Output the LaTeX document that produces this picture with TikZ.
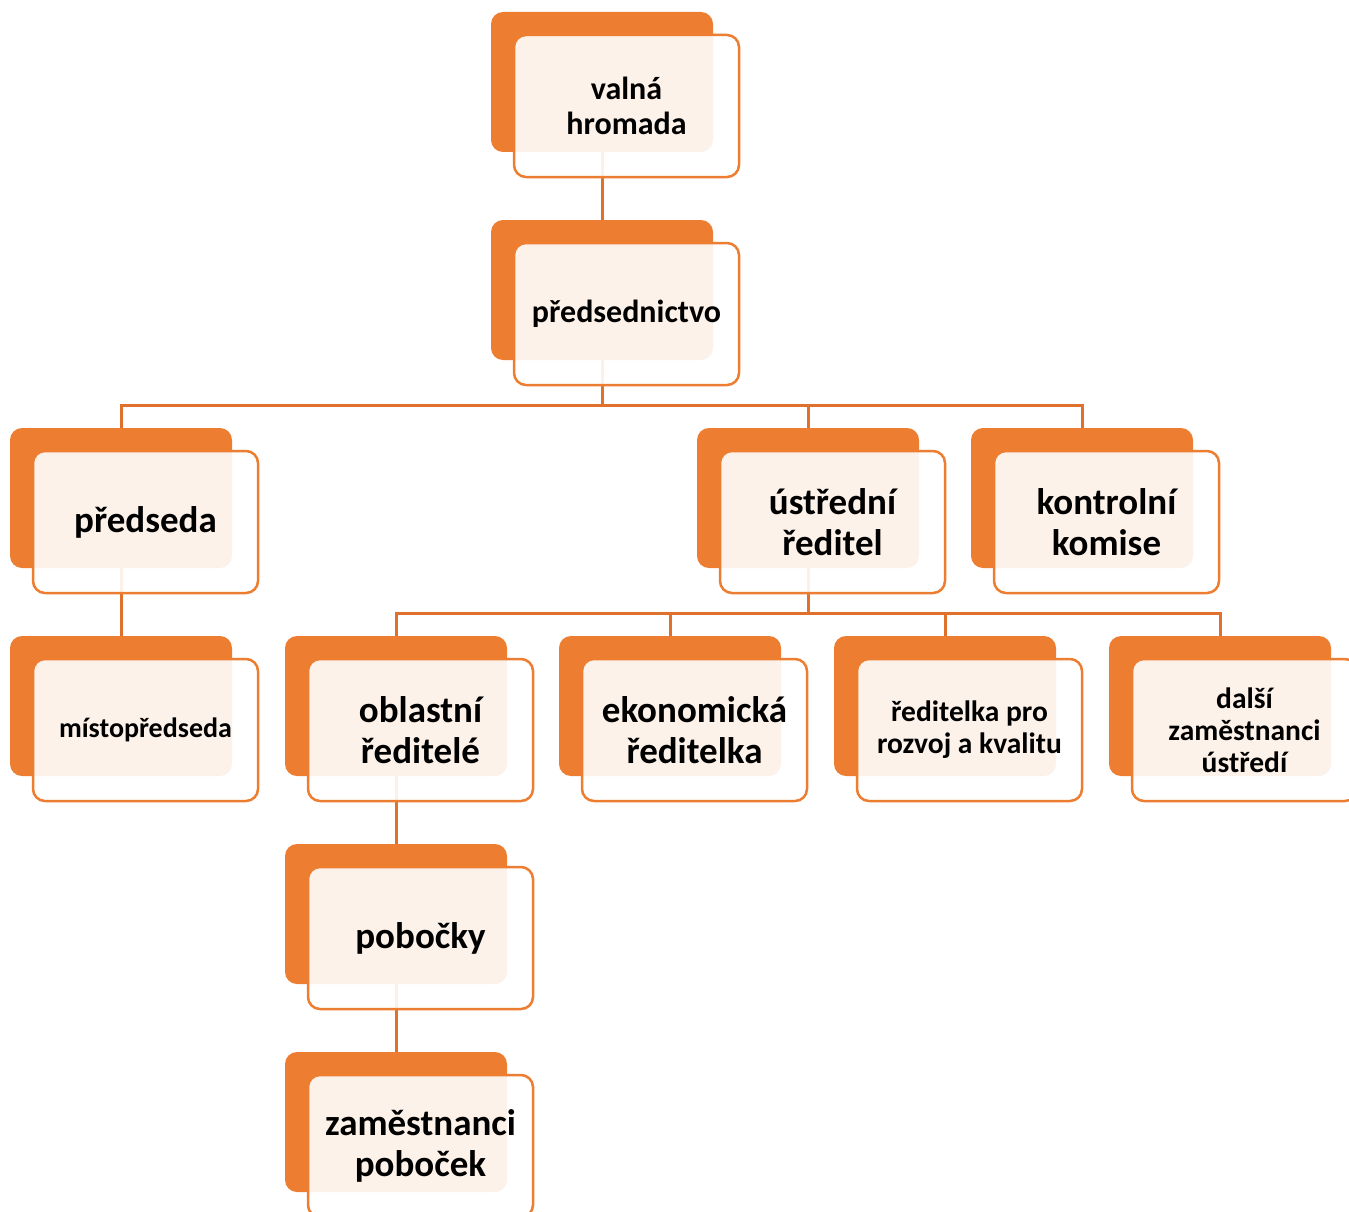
\documentclass[tikz,border=0pt]{standalone}
\usepackage{fontspec}
\setmainfont{Carlito}
\definecolor{org}{HTML}{ED7D31}
\definecolor{lnk}{HTML}{E0712C}
\tikzset{
  back/.style={fill=org, rounded corners=12pt, minimum width=222pt, minimum height=140pt, anchor=north west, inner sep=0pt, outer sep=0pt},
  front/.style={draw=org, line width=2.5pt, fill=white, fill opacity=0.9, text opacity=1, rounded corners=12pt, minimum width=225pt, minimum height=142pt, anchor=center, align=center, inner sep=0pt, text=black},
  big/.style={font=\fontsize{37}{41}\selectfont\bfseries},
  med/.style={font=\fontsize{32}{35}\selectfont\bfseries},
  sml/.style={font=\fontsize{29.5}{32}\selectfont\bfseries},
  smlr/.style={font=\fontsize{28}{32}\selectfont\bfseries},
  link/.style={draw=lnk, line width=3pt},
}
\begin{document}
\begin{tikzpicture}[x=1pt,y=-1pt]
\useasboundingbox (0,0) rectangle (1349,1212);
% back boxes
\node[back] (vhB) at (491,12) {};
\node[back] (pdB) at (491,220) {};
\node[back] (psB) at (10,428) {};
\node[back] (urB) at (697,428) {};
\node[back] (kkB) at (971,428) {};
\node[back] (mpB) at (10,636) {};
\node[back] (orB) at (285,636) {};
\node[back] (ekB) at (559,636) {};
\node[back] (rrB) at (834,636) {};
\node[back] (dzB) at (1109,636) {};
\node[back] (pbB) at (285,844) {};
\node[back] (zpB) at (285,1052) {};
% connectors
\draw[link] (vhB.south) -- (pdB.north);
\draw[link] (pdB.south) -- ++(0,45) coordinate (bus1);
\draw[link] (psB.north) |- (bus1);
\draw[link] (urB.north) |- (bus1);
\draw[link] (kkB.north) |- (bus1);
\draw[link] (psB.south) -- (mpB.north);
\draw[link] (urB.south) -- ++(0,45) coordinate (bus2);
\draw[link] (orB.north) |- (bus2);
\draw[link] (ekB.north) |- (bus2);
\draw[link] (rrB.north) |- (bus2);
\draw[link] (dzB.north) |- (bus2);
\draw[link] (orB.south) -- (pbB.north);
\draw[link] (pbB.south) -- (zpB.north);
% front boxes
\node[front, med] (vh) at (626.5,106) {valná\\hromada};
\node[front, med] (pd) at (626.5,314) {předsednictvo};
\node[front, big] (ps) at (145.5,522) {předseda};
\node[front, big] (ur) at (832.5,522) {ústřední\\ředitel};
\node[front, big] (kk) at (1106.5,522) {kontrolní\\komise};
\node[front, smlr] (mp) at (145.5,730) {místopředseda};
\node[front, big] (or) at (420.5,730) {oblastní\\ředitelé};
\node[front, big] (ek) at (694.5,730) {ekonomická\\ředitelka};
\node[front, sml] (rr) at (969.5,730) {ředitelka pro\\rozvoj a kvalitu};
\node[front, sml] (dz) at (1244.5,730) {další\\zaměstnanci\\ústředí};
\node[front, big] (pb) at (420.5,938) {pobočky};
\node[front, big] (zp) at (420.5,1146) {zaměstnanci\\poboček};
\end{tikzpicture}
\end{document}
